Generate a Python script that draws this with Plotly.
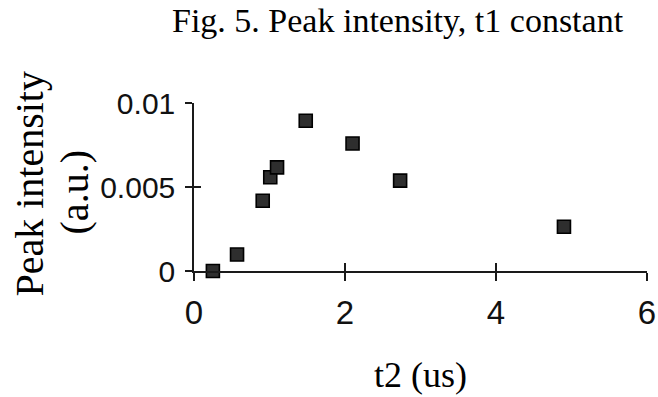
import plotly.graph_objects as go

# Data
t2_us = [0.25, 0.57, 0.91, 1.01, 1.10, 1.48, 2.10, 2.73, 4.90]
peak_intensity = [0.0, 0.00098, 0.00418, 0.00558, 0.00617, 0.00894, 0.00759, 0.00538, 0.00263]
x_ticks = [0, 2, 4, 6]
y_ticks = [0, 0.005, 0.01]
y_tick_labels = ["0", "0.005", "0.01"]

SERIF = "Liberation Serif, Times New Roman, serif"
TICKF = "Liberation Sans, Arial, sans-serif"
AX = "#1a1a1a"

fig = go.Figure()
fig.add_trace(go.Scatter(
    x=t2_us, y=peak_intensity, mode="markers",
    marker=dict(symbol="square", size=13, color="#2e2e2e",
                line=dict(color="#000000", width=1.6)),
    cliponaxis=False, showlegend=False,
))
# invisible trace to activate overlay axes (inside ticks)
fig.add_trace(go.Scatter(x=[None], y=[None], xaxis="x2", yaxis="y2",
                         showlegend=False, hoverinfo="skip"))

common = dict(showgrid=False, zeroline=False)
fig.update_layout(
    width=658, height=397,
    margin=dict(l=194, r=11, t=103, b=126, autoexpand=False),
    paper_bgcolor="white", plot_bgcolor="white",
    xaxis=dict(range=[0, 6], tickvals=x_ticks, ticktext=[str(v) for v in x_ticks],
               ticks="outside", ticklen=8, tickwidth=1.5, tickcolor=AX,
               showline=True, linecolor=AX, linewidth=1.5,
               tickfont=dict(family=TICKF, size=33, color="#111"),
               ticklabelstandoff=4, automargin=False, **common),
    yaxis=dict(range=[0, 0.01], tickvals=y_ticks, ticktext=y_tick_labels,
               ticks="outside", ticklen=7, tickwidth=1.5, tickcolor=AX,
               showline=True, linecolor=AX, linewidth=1.5,
               tickfont=dict(family=TICKF, size=30, color="#111"),
               ticklabelstandoff=4, automargin=False, **common),
    xaxis2=dict(overlaying="x", matches="x", anchor="y", range=[0, 6],
                tickvals=x_ticks, ticks="inside", ticklen=8, tickwidth=1.5,
                tickcolor=AX, showticklabels=False, showline=False, **common),
    yaxis2=dict(overlaying="y", matches="y", anchor="x", range=[0, 0.01],
                tickvals=y_ticks, ticks="inside", ticklen=7, tickwidth=1.5,
                tickcolor=AX, showticklabels=False, showline=False, **common),
)

ann = [
    dict(text="Fig. 5. Peak intensity, t1 constant", x=-0.052, y=1.49,
         xanchor="left", yanchor="middle", font=dict(family=SERIF, size=34, color="#000")),
    dict(text="Peak intensity", x=-0.364, y=0.521, textangle=-90,
         xanchor="center", yanchor="middle", font=dict(family=SERIF, size=40, color="#000")),
    dict(text="(a.u.)", x=-0.264, y=0.470, textangle=-90,
         xanchor="center", yanchor="middle", font=dict(family=SERIF, size=40, color="#000")),
    dict(text="t2 (us)", x=0.5, y=-0.617,
         xanchor="center", yanchor="middle", font=dict(family=SERIF, size=36, color="#000")),
]
for a in ann:
    fig.add_annotation(xref="paper", yref="paper", showarrow=False, **a)

fig.write_html("out.html", config={"displayModeBar": False},
               post_script="document.body.style.margin='0';")
